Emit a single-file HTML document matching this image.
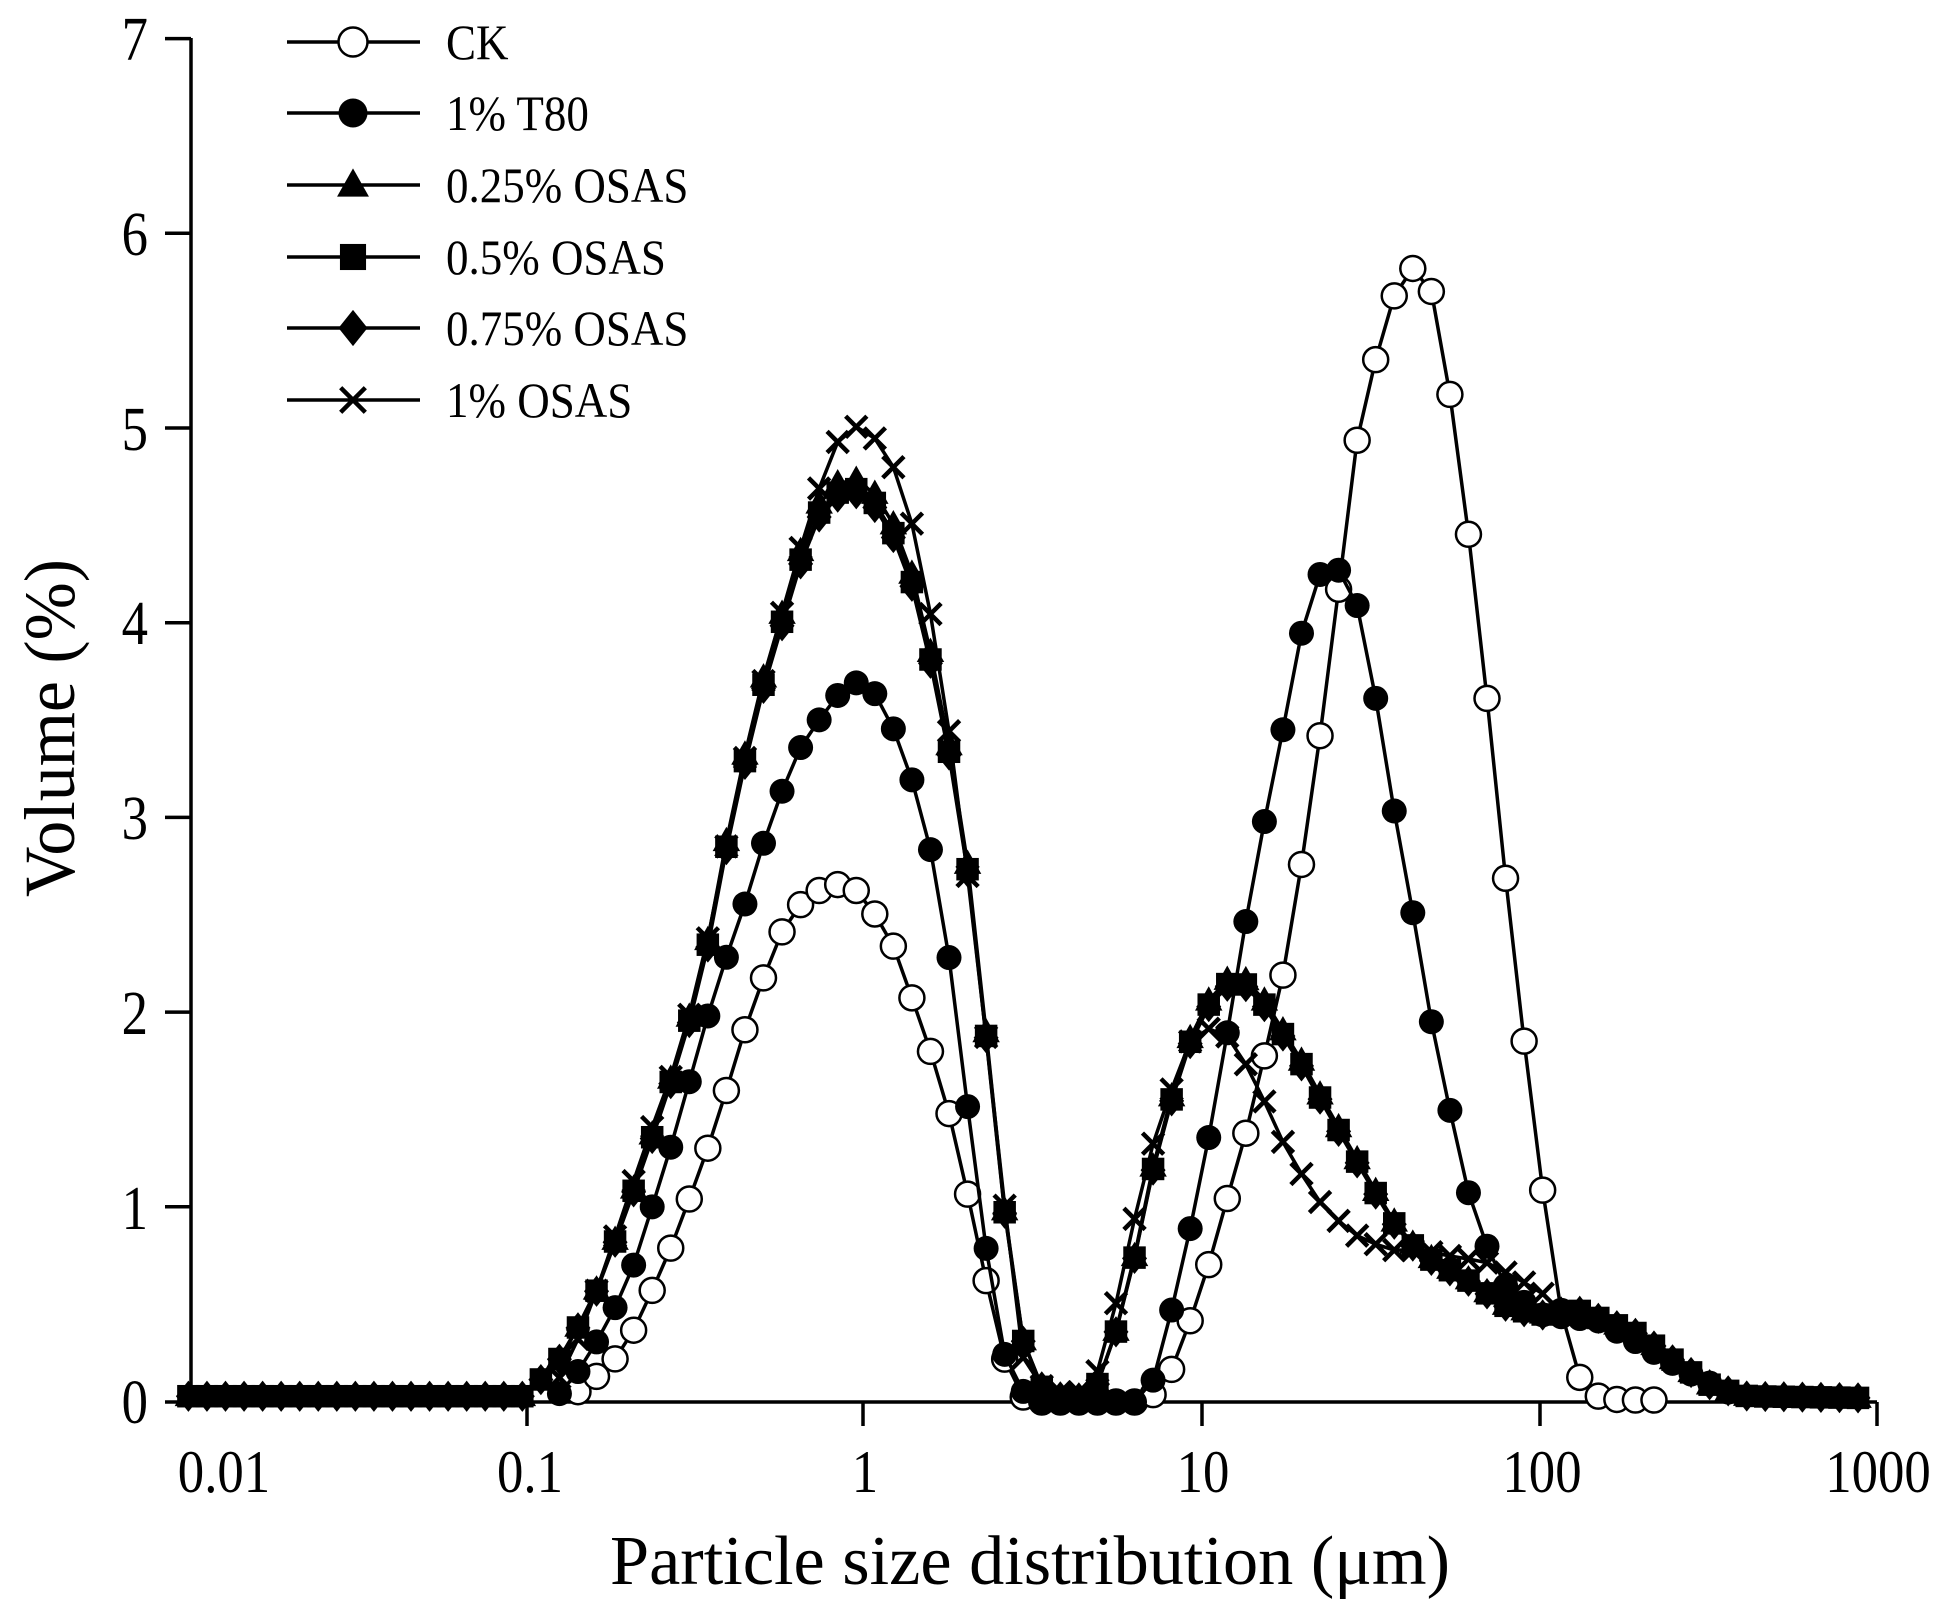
<!DOCTYPE html>
<html><head><meta charset="utf-8"><style>
html,body{margin:0;padding:0;background:#fff;}
svg{display:block;}
text{font-family:"Liberation Serif",serif;fill:#000;}
</style></head><body>
<svg id="s" width="1950" height="1615" xmlns="http://www.w3.org/2000/svg">
<g stroke="#000" stroke-width="3.5" fill="none">
<line x1="191" y1="38" x2="191" y2="1402"/>
<line x1="165" y1="1402" x2="1877" y2="1402"/>
<line x1="165" y1="38.6" x2="191" y2="38.6"/>
<line x1="165" y1="233.3" x2="191" y2="233.3"/>
<line x1="165" y1="428" x2="191" y2="428"/>
<line x1="165" y1="622.7" x2="191" y2="622.7"/>
<line x1="165" y1="817.4" x2="191" y2="817.4"/>
<line x1="165" y1="1012.1" x2="191" y2="1012.1"/>
<line x1="165" y1="1206.8" x2="191" y2="1206.8"/>
<line x1="527" y1="1402" x2="527" y2="1426"/>
<line x1="863" y1="1402" x2="863" y2="1426"/>
<line x1="1202" y1="1402" x2="1202" y2="1426"/>
<line x1="1540" y1="1402" x2="1540" y2="1426"/>
<line x1="1877" y1="1402" x2="1877" y2="1426"/>
</g>
<g font-size="62" text-anchor="end">
<text transform="translate(148,60) scale(0.85,1)">7</text>
<text transform="translate(148,255) scale(0.85,1)">6</text>
<text transform="translate(148,450) scale(0.85,1)">5</text>
<text transform="translate(148,644) scale(0.85,1)">4</text>
<text transform="translate(148,839) scale(0.85,1)">3</text>
<text transform="translate(148,1034) scale(0.85,1)">2</text>
<text transform="translate(148,1229) scale(0.85,1)">1</text>
<text transform="translate(148,1423) scale(0.85,1)">0</text>
</g>
<g font-size="60" text-anchor="middle">
<text transform="translate(224,1492) scale(0.88,1)">0.01</text>
<text transform="translate(530,1492) scale(0.88,1)">0.1</text>
<text transform="translate(865,1492) scale(0.88,1)">1</text>
<text transform="translate(1203,1492) scale(0.88,1)">10</text>
<text transform="translate(1542,1492) scale(0.88,1)">100</text>
<text transform="translate(1878,1492) scale(0.88,1)">1000</text>
</g>
<text x="1030" y="1584" font-size="70" text-anchor="middle" textLength="840" lengthAdjust="spacingAndGlyphs">Particle size distribution (μm)</text>
<text transform="translate(74,728) rotate(-90)" font-size="72" text-anchor="middle" textLength="338" lengthAdjust="spacingAndGlyphs">Volume (%)</text>
<g id="plot"></g>
<g id="leg"></g>
</svg>
<script>
var NS="http://www.w3.org/2000/svg";
function X(v){return 863+337.3*Math.log10(v);}
function Y(v){return 1402-194.7*v;}
var osas=[[0.0088,0.03],[0.1,0.03],[0.13,0.25],[0.16,0.55],[0.2,1.0],[0.24,1.4],[0.28,1.75],[0.32,2.1],[0.36,2.5],[0.4,2.95],[0.45,3.35],[0.52,3.8],[0.6,4.15],[0.7,4.55],[0.8,4.7],[0.92,4.75],[1.05,4.7],[1.2,4.55],[1.35,4.35],[1.5,4.05],[1.7,3.6],[1.95,3.05],[2.2,2.3],[2.45,1.47],[2.75,0.68],[3.1,0.15],[3.6,0.03],[4.5,0.02],[5,0.1],[5.5,0.3],[6.3,0.7],[7.1,1.15],[8,1.5],[9,1.8],[10,2.0],[11.5,2.15],[13,2.2],[15,2.1],[17,1.95],[20,1.75],[24,1.5],[28,1.3],[34,1.05],[40,0.85],[50,0.72],[60,0.65],[80,0.5],[100,0.45],[130,0.48],[160,0.42],[200,0.35],[260,0.2],[330,0.08],[420,0.03],[1000,0.02]];
function shift(arr,f){return arr.map(function(p){return [p[0],p[1]*f];});}
var S=[
{m:"c",lo:0.14,hi:240,d:[[0.13,0],[0.15,0.08],[0.18,0.2],[0.2,0.3],[0.22,0.45],[0.25,0.66],[0.28,0.86],[0.32,1.14],[0.36,1.38],[0.4,1.64],[0.45,1.93],[0.5,2.15],[0.56,2.38],[0.63,2.53],[0.72,2.62],[0.85,2.66],[0.98,2.62],[1.1,2.49],[1.25,2.32],[1.4,2.07],[1.6,1.78],[1.85,1.41],[2.1,0.97],[2.4,0.5],[2.7,0.14],[3.0,0.02],[3.3,0],[6.5,0],[7.5,0.05],[8.5,0.21],[9.6,0.48],[10.8,0.75],[12,1.04],[13.6,1.37],[15.5,1.78],[18,2.27],[20.5,2.89],[23.5,3.62],[29,4.92],[34,5.44],[39,5.77],[44,5.84],[51,5.63],[55,5.17],[63,4.4],[72,3.5],[82,2.54],[95,1.59],[108,0.84],[123,0.26],[138,0.07],[155,0.02],[180,0.01],[240,0.01]]},
{m:"f",lo:0.12,hi:400,d:[[0.12,0],[0.15,0.2],[0.2,0.6],[0.26,1.22],[0.29,1.5],[0.33,1.86],[0.38,2.21],[0.44,2.52],[0.5,2.84],[0.57,3.12],[0.66,3.38],[0.76,3.53],[0.86,3.65],[0.97,3.7],[1.12,3.62],[1.25,3.43],[1.4,3.19],[1.6,2.81],[1.8,2.28],[2.0,1.64],[2.25,0.94],[2.55,0.3],[2.9,0.07],[3.3,0],[6.5,0],[7.3,0.12],[8.3,0.5],[9.5,0.95],[11,1.5],[12.5,2.07],[14.3,2.68],[16.5,3.22],[18.6,3.66],[20.5,4.06],[23,4.28],[26.5,4.27],[29.5,4.07],[33,3.63],[37,3.1],[43,2.48],[49,1.9],[57,1.37],[65,0.94],[80,0.6],[100,0.45],[150,0.42],[200,0.3],[280,0.15],[400,0.02]]},
{m:"t",lo:0.0099,hi:1000,d:osas},
{m:"s",lo:0.0099,hi:1000,d:shift(osas,0.99)},
{m:"d",lo:0.0099,hi:1000,d:shift(osas,0.985)},
{m:"x",lo:0.12,hi:105,d:[[0.1,0.02],[0.12,0.05],[0.15,0.4],[0.18,0.8],[0.23,1.35],[0.28,1.75],[0.33,2.2],[0.37,2.62],[0.42,3.1],[0.48,3.55],[0.55,3.93],[0.63,4.3],[0.72,4.62],[0.8,4.88],[0.92,5.02],[1.05,4.98],[1.2,4.85],[1.35,4.62],[1.5,4.28],[1.7,3.75],[1.9,3.15],[2.15,2.38],[2.45,1.5],[2.75,0.7],[3.0,0.2],[3.5,0.05],[4.6,0.05],[5.1,0.2],[5.7,0.55],[6.4,0.95],[7.3,1.35],[8.2,1.6],[9.3,1.85],[10.5,1.92],[12,1.88],[13.5,1.75],[15,1.6],[17,1.38],[19.5,1.2],[22,1.05],[25,0.95],[28,0.87],[32,0.82],[37,0.78],[45,0.78],[55,0.75],[70,0.72],[90,0.62],[105,0.55]]}
];
function interp(d,v){var L=Math.log10(v);
 if(v<=d[0][0])return d[0][1]; if(v>=d[d.length-1][0])return d[d.length-1][1];
 for(var i=1;i<d.length;i++){if(v<=d[i][0]){var a=Math.log10(d[i-1][0]),b=Math.log10(d[i][0]);var t=(L-a)/(b-a);return d[i-1][1]+t*(d[i][1]-d[i-1][1]);}}}
function el(n,a,p){var e=document.createElementNS(NS,n);for(var k in a)e.setAttribute(k,a[k]);p.appendChild(e);return e;}
function marker(m,x,y,r,p){
 if(m=="c")el("circle",{cx:x,cy:y,r:r,fill:"#fff",stroke:"#000","stroke-width":2.5},p);
 else if(m=="f")el("circle",{cx:x,cy:y,r:r,fill:"#000"},p);
 else if(m=="t")el("polygon",{points:(x)+","+(y-r*1.15)+" "+(x-r*1.1)+","+(y+r*0.8)+" "+(x+r*1.1)+","+(y+r*0.8),fill:"#000"},p);
 else if(m=="s")el("rect",{x:x-r*0.9,y:y-r*0.9,width:r*1.8,height:r*1.8,fill:"#000"},p);
 else if(m=="d")el("polygon",{points:x+","+(y-r*1.25)+" "+(x+r)+","+y+" "+x+","+(y+r*1.25)+" "+(x-r)+","+y,fill:"#000"},p);
 else if(m=="x"){var q=r*0.85;el("path",{d:"M"+(x-q)+" "+(y-q)+"L"+(x+q)+" "+(y+q)+"M"+(x-q)+" "+(y+q)+"L"+(x+q)+" "+(y-q),stroke:"#000","stroke-width":4.5,fill:"none"},p);}
}
var plot=document.getElementById("plot");
S.forEach(function(s){
 var pts=[],mk=[];
 for(var L=-2.0;L<=3.0001;L+=0.055){var v=Math.pow(10,L);if(v<s.lo||v>s.hi)continue;var y=interp(s.d,v);pts.push(X(v).toFixed(1)+","+Y(y).toFixed(1));mk.push([X(v),Y(y)]);}
 el("polyline",{points:pts.join(" "),fill:"none",stroke:"#000","stroke-width":3.5},plot);
 mk.forEach(function(q){marker(s.m,q[0],q[1],12.5,plot);});
});
var leg=document.getElementById("leg");
var names=["CK","1% T80","0.25% OSAS","0.5% OSAS","0.75% OSAS","1% OSAS"];
var ys=[42,113,185,257,328,400];
S.forEach(function(s,i){
 el("line",{x1:287,y1:ys[i],x2:420,y2:ys[i],stroke:"#000","stroke-width":3.5},leg);
 marker(s.m,353,ys[i],14.5,leg);
 var t=el("text",{transform:"translate(446,"+(ys[i]+17)+") scale(0.9,1)","font-size":50},leg);t.textContent=names[i];
});
</script>
</body></html>
